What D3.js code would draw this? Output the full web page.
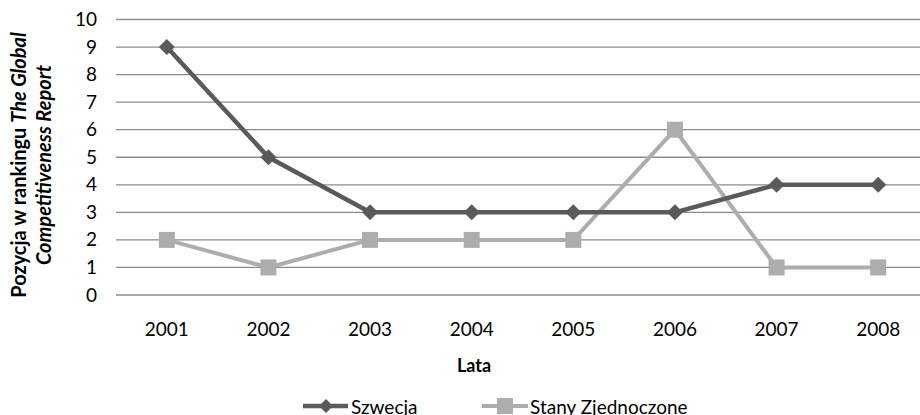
<!DOCTYPE html>
<html>
<head>
<meta charset="utf-8">
<script src="https://cdn.jsdelivr.net/npm/d3@7"></script>
<style>
  body { margin: 0; background: #fff; }
  text { font-family: Lato, "Open Sans", sans-serif; fill: #000; }
</style>
</head>
<body>
<div id="chart"></div>
<script>
const years = ['2001', '2002', '2003', '2004', '2005', '2006', '2007', '2008'];
const szwecja = [9, 5, 3, 3, 3, 3, 4, 4];
const usa = [2, 1, 2, 2, 2, 6, 1, 1];
const yTicks = [0, 1, 2, 3, 4, 5, 6, 7, 8, 9, 10];

const width = 920, height = 415;
const plot = {left: 116, right: 929, top: 19.5, bottom: 295};

const svg = d3.select("#chart")
    .append("svg")
    .attr("width", width)
    .attr("height", height);

const x = d3.scaleBand()
    .domain(years)
    .range([plot.left, plot.right]);

const y = d3.scaleLinear()
    .domain([0, 10])
    .range([plot.bottom, plot.top]);

// gridlines
svg.append("g")
    .selectAll("line")
    .data(yTicks)
    .join("line")
    .attr("x1", plot.left)
    .attr("x2", plot.right)
    .attr("y1", d => y(d))
    .attr("y2", d => y(d))
    .attr("stroke", "#8c8c8c")
    .attr("stroke-width", 1.3);

// y axis labels
const yAxis = svg.append("g")
    .attr("transform", `translate(${plot.left},0)`)
    .call(d3.axisLeft(y).tickValues(yTicks).tickSize(0).tickPadding(19));
yAxis.select(".domain").remove();
yAxis.selectAll("text")
    .style("font-family", "Lato, sans-serif")
    .style("font-size", "19px")
    .attr("fill", "#000");

// x axis labels
const xAxis = svg.append("g")
    .attr("transform", `translate(0,${plot.bottom})`)
    .call(d3.axisBottom(x).tickSize(0).tickPadding(28));
xAxis.select(".domain").remove();
xAxis.selectAll("text")
    .style("font-family", "Lato, sans-serif")
    .style("font-size", "19px")
    .attr("fill", "#000");

svg.append("text")
    .attr("x", 474)
    .attr("y", 372)
    .attr("text-anchor", "middle")
    .style("font-size", "18px")
    .style("font-weight", "bold")
    .text("Lata");

// y title
const yt = svg.append("text")
    .attr("transform", "translate(0,165) rotate(-90)")
    .attr("text-anchor", "middle")
    .style("font-size", "20px")
    .style("font-weight", "bold");
yt.append("tspan").attr("x", 0).attr("y", 26).text("Pozycja w rankingu ");
yt.append("tspan").style("font-style", "italic").text("The Global");
yt.append("tspan").attr("x", 0).attr("y", 51).style("font-style", "italic").text("Competitiveness Report");

const line = d3.line()
    .x((d, i) => x(years[i]) + x.bandwidth() / 2)
    .y(d => y(d));

// USA series
svg.append("path")
    .datum(usa)
    .attr("fill", "none")
    .attr("stroke", "#adadad")
    .attr("stroke-width", 4)
    .attr("stroke-linejoin", "round")
    .attr("d", line);
svg.append("g")
    .selectAll("rect")
    .data(usa)
    .join("rect")
    .attr("x", (d, i) => x(years[i]) + x.bandwidth() / 2 - 8)
    .attr("y", d => y(d) - 8)
    .attr("width", 16)
    .attr("height", 16)
    .attr("fill", "#adadad");

// Szwecja series
svg.append("path")
    .datum(szwecja)
    .attr("fill", "none")
    .attr("stroke", "#5a5a5a")
    .attr("stroke-width", 4.5)
    .attr("stroke-linejoin", "round")
    .attr("d", line);
svg.append("g")
    .selectAll("path")
    .data(szwecja)
    .join("path")
    .attr("transform", (d, i) => `translate(${x(years[i]) + x.bandwidth() / 2},${y(d)})`)
    .attr("d", "M0,-8L8,0L0,8L-8,0Z")
    .attr("fill", "#5a5a5a");

// legend
const lg = svg.append("g");
lg.append("line").attr("x1", 303).attr("x2", 348).attr("y1", 406).attr("y2", 406)
    .attr("stroke", "#5a5a5a").attr("stroke-width", 4.5);
lg.append("path").attr("transform", "translate(326,406)").attr("d", "M0,-7L7,0L0,7L-7,0Z")
    .attr("fill", "#5a5a5a");
lg.append("text").attr("x", 351).attr("y", 414).style("font-size", "19px").text("Szwecja");

lg.append("line").attr("x1", 482).attr("x2", 528).attr("y1", 406).attr("y2", 406)
    .attr("stroke", "#adadad").attr("stroke-width", 4);
lg.append("rect").attr("x", 497).attr("y", 398).attr("width", 16).attr("height", 16)
    .attr("fill", "#adadad");
lg.append("text").attr("x", 530).attr("y", 414).style("font-size", "19px").text("Stany Zjednoczone");
</script>
</body>
</html>
